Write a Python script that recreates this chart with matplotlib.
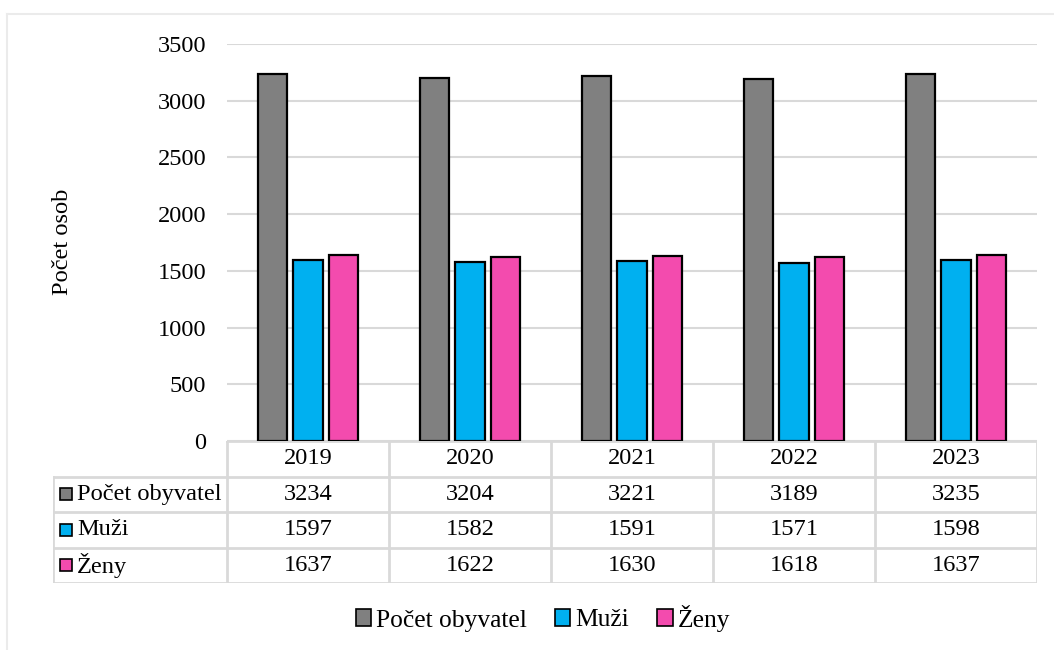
import matplotlib
matplotlib.use("Agg")
from matplotlib import pyplot as plt
from matplotlib.lines import Line2D
from matplotlib.patches import Patch

plt.rcParams['font.family'] = ['Liberation Serif', 'DejaVu Serif']

years = ['2019', '2020', '2021', '2022', '2023']
obyvatel = [3234, 3204, 3221, 3189, 3235]
muzi = [1597, 1582, 1591, 1571, 1598]
zeny = [1637, 1622, 1630, 1618, 1637]

series_names = ['Počet obyvatel', 'Muži', 'Ženy']
series_vals = [obyvatel, muzi, zeny]
colors = ['#808080', '#00B0F0', '#F34BAE']
grid_c = '#D9D9D9'
fs = 17.6

W, H = 1054, 650
fig = plt.figure(figsize=(W / 100, H / 100), dpi=100)

def fx(px):
    return px / W

def fy(py):
    return 1 - py / H

# outer chart frame (only top and left edges visible)
fig.add_artist(Line2D([fx(7), fx(7)], [fy(14), 0], color='#EBEBEB', lw=1.5))
fig.add_artist(Line2D([fx(7), 1], [fy(14), fy(14)], color='#EBEBEB', lw=1.5))

# bars
L, R, T, B = 227, 1037, 44, 441
ax = fig.add_axes([fx(L), fy(B), fx(R) - fx(L), fy(T) - fy(B)])
x = list(range(len(years)))
offsets = [-0.22, 0.0, 0.22]
for vals, off, c in zip(series_vals, offsets, colors):
    ax.bar([i + off for i in x], vals, width=0.18, color=c,
           edgecolor='black', linewidth=1.6, zorder=3)
ax.set_xlim(-0.5, 4.5)
ax.set_ylim(0, 3500)
ax.set_yticks(range(0, 3501, 500))
ax.tick_params(axis='y', length=0, pad=15, labelsize=fs)
ax.set_xticks([])
ax.grid(axis='y', color=grid_c, lw=1.5, zorder=0)
for s in ax.spines.values():
    s.set_visible(False)
fig.text(fx(62), fy(242), 'Počet osob', rotation=90, ha='center', va='center',
         fontsize=fs)

# data table under the bars
TL, TB = 53, 583
tab = fig.add_axes([fx(TL), fy(TB), fx(R) - fx(TL), fy(B) - fy(TB)])
x0 = -0.5 - (L - TL) / ((R - L) / 5)
tab.set_xlim(x0, 4.5)
tab.set_ylim(4, 0)
tab.axis('off')
lk = dict(color=grid_c, lw=2, solid_capstyle='projecting')
tab.plot([-0.5, 4.5], [0, 0], **lk)
for r in range(1, 5):
    tab.plot([x0, 4.5], [r, r], **lk)
for i in range(6):
    tab.plot([i - 0.5, i - 0.5], [0, 4], **lk)
tab.plot([x0, x0], [1, 4], **lk)
for i, yr in enumerate(years):
    tab.text(i, 0.5, yr, ha='center', va='center', fontsize=fs)
for r, (name, vals, c) in enumerate(zip(series_names, series_vals, colors), start=1):
    tab.plot(x0 + 0.08, r + 0.5, marker='s', ms=9, mfc=c, mec='black', mew=1.2)
    tab.text(x0 + 0.15, r + 0.5, name, ha='left', va='center', fontsize=fs)
    for i, v in enumerate(vals):
        tab.text(i, r + 0.5, str(v), ha='center', va='center', fontsize=fs)

# legend
handles = [Patch(facecolor=c, edgecolor='black', linewidth=1.2) for c in colors]
fig.legend(handles, series_names, loc='center', bbox_to_anchor=(fx(543), fy(618)),
           ncol=3, frameon=False, fontsize=18.4, handlelength=0.6, handleheight=0.6,
           handletextpad=0.2, columnspacing=1.1)

fig.savefig('out.png', dpi=100)
